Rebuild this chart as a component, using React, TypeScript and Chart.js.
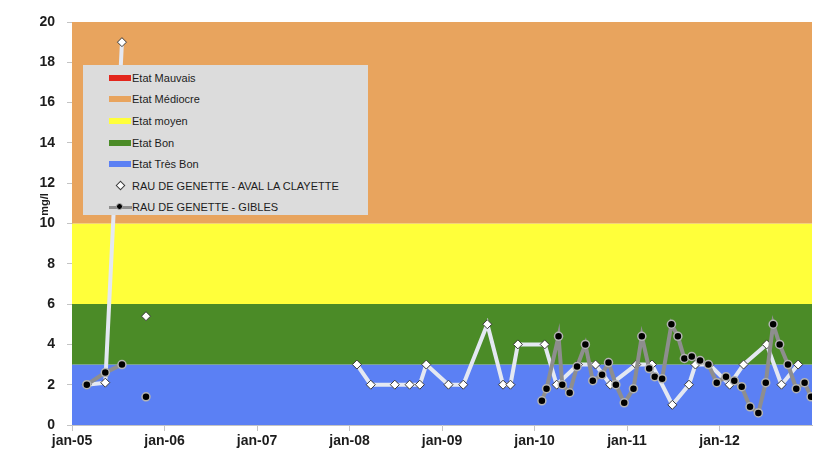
import React, { useEffect, useRef } from 'react';
import { Chart, registerables } from 'chart.js';

Chart.register(...registerables);

// ---- axis data ----
const xMin = 2005;
const xMax = 2013;
const xTickYears = [2005, 2006, 2007, 2008, 2009, 2010, 2011, 2012, 2013];
const xTickLabels = ['jan-05', 'jan-06', 'jan-07', 'jan-08', 'jan-09', 'jan-10', 'jan-11', 'jan-12', ''];
const yMin = 0;
const yMax = 20;
const yStep = 2;
const yTitle = 'mg/l';

// ---- quality bands ----
const bandLabels = ['Etat Mauvais', 'Etat Médiocre', 'Etat moyen', 'Etat Bon', 'Etat Très Bon'];
const bandUpper = [20, 20, 10, 6, 3];
const bandColors = ['#e3261c', '#e8a45e', '#ffff3a', '#4b8b27', '#5b80f4'];

// ---- series: RAU DE GENETTE - AVAL LA CLAYETTE (null = gap) ----
const avalLabel = 'RAU DE GENETTE - AVAL LA CLAYETTE';
const avalDates = [
  2005.16, 2005.36, 2005.54, 2005.67, 2005.80, 2007.0,
  2008.08, 2008.23, 2008.49, 2008.65, 2008.76, 2008.83,
  2009.07, 2009.23, 2009.49, 2009.66, 2009.74, 2009.82,
  2010.11, 2010.24, 2010.47, 2010.66, 2010.82,
  2011.10, 2011.27, 2011.49, 2011.67, 2011.74, 2011.89,
  2012.11, 2012.26, 2012.51, 2012.67, 2012.85,
];
const avalValues = [
  2.0, 2.1, 19.0, null, 5.4, null,
  3.0, 2.0, 2.0, 2.0, 2.0, 3.0,
  2.0, 2.0, 5.0, 2.0, 2.0, 4.0,
  4.0, 2.0, 3.0, 3.0, 2.0,
  3.0, 3.0, 1.0, 2.0, 3.0, 3.0,
  2.0, 3.0, 4.0, 2.0, 3.0,
];

// ---- series: RAU DE GENETTE - GIBLES (null = gap) ----
const giblesLabel = 'RAU DE GENETTE - GIBLES';
const giblesDates = [
  2005.16, 2005.36, 2005.54, 2005.67, 2005.80, 2007.0,
  2010.08, 2010.13, 2010.26, 2010.30, 2010.38, 2010.46, 2010.55, 2010.63, 2010.73, 2010.80, 2010.88, 2010.97,
  2011.07, 2011.16, 2011.24, 2011.30, 2011.38, 2011.48, 2011.55, 2011.62, 2011.70, 2011.79, 2011.88, 2011.97,
  2012.07, 2012.16, 2012.24, 2012.33, 2012.42, 2012.50, 2012.58, 2012.65, 2012.74, 2012.83, 2012.92, 2012.99,
];
const giblesValues = [
  2.0, 2.6, 3.0, null, 1.4, null,
  1.2, 1.8, 4.4, 2.0, 1.6, 2.9, 4.0, 2.2, 2.5, 3.1, 2.0, 1.1,
  1.8, 4.4, 2.8, 2.4, 2.3, 5.0, 4.4, 3.3, 3.4, 3.2, 3.0, 2.1,
  2.4, 2.2, 1.9, 0.9, 0.6, 2.1, 5.0, 4.0, 3.0, 1.8, 2.1, 1.4,
];

const avalLineColor = '#e4e8f2';
const giblesLineColor = '#8e8e8e';
const textColor = '#1c1c1c';

// draws the rotated y-axis title slightly above the axis middle, as in the reference
const yTitlePlugin = {
  id: 'yTitleText',
  afterDraw(chart: any) {
    const { ctx, chartArea } = chart;
    const cx = chartArea.left - 27;
    const cy = (chartArea.top + chartArea.bottom) / 2 - 19;
    ctx.save();
    ctx.translate(cx, cy);
    ctx.rotate(-Math.PI / 2);
    ctx.font = 'bold 11px "Liberation Sans", Arial, sans-serif';
    ctx.fillStyle = textColor;
    ctx.textAlign = 'center';
    ctx.textBaseline = 'middle';
    ctx.fillText(yTitle, 0, 0);
    ctx.restore();
  },
};

export default function App() {
  const canvasRef = useRef<HTMLCanvasElement | null>(null);

  useEffect(() => {
    document.body.style.margin = '0';
    const canvas = canvasRef.current;
    if (!canvas) return;

    const bandDatasets = bandLabels.map((label, i) => ({
      label,
      data: [
        { x: xMin, y: bandUpper[i] },
        { x: xMax, y: bandUpper[i] },
      ],
      borderWidth: 0,
      borderColor: bandColors[i],
      backgroundColor: bandColors[i],
      pointRadius: 0,
      fill: i === bandLabels.length - 1 ? 'origin' : i + 1,
      order: 10 + i,
    }));

    const chart = new Chart(canvas, {
      type: 'line',
      data: {
        datasets: [
          ...bandDatasets,
          {
            label: avalLabel,
            data: avalDates.map((d, i) => ({ x: d, y: avalValues[i] })),
            borderColor: avalLineColor,
            borderWidth: 4,
            pointStyle: 'rectRot',
            pointRadius: 4.5,
            pointBackgroundColor: '#ffffff',
            pointBorderColor: '#3a3a3a',
            pointBorderWidth: 1,
            fill: false,
            spanGaps: false,
            order: 2,
          },
          {
            label: giblesLabel,
            data: giblesDates.map((d, i) => ({ x: d, y: giblesValues[i] })),
            borderColor: giblesLineColor,
            borderWidth: 4,
            pointStyle: 'circle',
            pointRadius: 4,
            pointBackgroundColor: '#000000',
            pointBorderColor: '#b4b4b4',
            pointBorderWidth: 1.5,
            fill: false,
            spanGaps: false,
            order: 1,
          },
        ],
      },
      options: {
        animation: false,
        responsive: false,
        devicePixelRatio: 1,
        layout: { padding: { top: 22, right: 9, left: 0, bottom: 0 } },
        plugins: {
          legend: { display: false },
          tooltip: { enabled: false },
          filler: { drawTime: 'beforeDatasetsDraw' },
        },
        scales: {
          x: {
            type: 'linear',
            min: xMin,
            max: xMax,
            afterFit: (scale: any) => {
              scale.height = 32;
            },
            afterBuildTicks: (scale: any) => {
              scale.ticks = xTickYears.map((v) => ({ value: v }));
            },
            ticks: {
              autoSkip: false,
              maxRotation: 0,
              padding: 2,
              color: textColor,
              font: { family: 'Liberation Sans', size: 14, weight: 'bold' },
              callback: (v: any) => {
                const idx = xTickYears.indexOf(Number(v));
                return idx >= 0 ? xTickLabels[idx] : '';
              },
            },
            grid: {
              drawOnChartArea: false,
              tickLength: 6,
              color: (ctx: any) => (ctx.tick && ctx.tick.value === xMax ? 'rgba(0,0,0,0)' : '#c4c4c4'),
            },
            border: { color: '#c4c4c4' },
          },
          y: {
            min: yMin,
            max: yMax,
            afterFit: (scale: any) => {
              scale.width = 72;
            },
            ticks: {
              stepSize: yStep,
              padding: 12,
              color: textColor,
              font: { family: 'Liberation Sans', size: 14, weight: 'bold' },
            },
            grid: { drawOnChartArea: false, tickLength: 5, color: '#c4c4c4' },
            border: { color: '#c4c4c4' },
            title: { display: false },
          },
        },
      },
      plugins: [yTitlePlugin],
    });

    return () => chart.destroy();
  }, []);

  const rowH = 21.6;
  const legendRows: { label: string; kind: string; color?: string }[] = [
    ...bandLabels.map((l, i) => ({ label: l, kind: 'band', color: bandColors[i] })),
    { label: avalLabel, kind: 'aval' },
    { label: giblesLabel, kind: 'gibles' },
  ];

  return (
    <div style={{ position: 'relative', width: 821, height: 457, background: '#fff' }}>
      <canvas ref={canvasRef} width={821} height={457} style={{ width: 821, height: 457, display: 'block' }} />
      <div
        style={{
          position: 'absolute',
          left: 83,
          top: 65,
          width: 285,
          height: 150,
          background: '#dcdcdc',
          fontFamily: 'Liberation Sans, Arial, sans-serif',
          fontSize: 11,
          color: textColor,
        }}
      >
        {legendRows.map((r, i) => {
          const cy = 12.7 + i * rowH;
          return (
            <div key={r.label} style={{ position: 'absolute', left: 0, top: cy - 8, height: 16, width: 285 }}>
              {r.kind === 'band' && (
                <div style={{ position: 'absolute', left: 26, top: 5, width: 22, height: 6, background: r.color }} />
              )}
              {r.kind === 'aval' && (
                <div
                  style={{
                    position: 'absolute',
                    left: 33.5,
                    top: 4.5,
                    width: 5,
                    height: 5,
                    background: '#fff',
                    border: '1px solid #3a3a3a',
                    transform: 'rotate(45deg)',
                  }}
                />
              )}
              {r.kind === 'gibles' && (
                <>
                  <div style={{ position: 'absolute', left: 26, top: 6.5, width: 23, height: 3, background: giblesLineColor }} />
                  <div
                    style={{
                      position: 'absolute',
                      left: 33,
                      top: 4,
                      width: 7,
                      height: 7,
                      borderRadius: '50%',
                      background: '#000',
                      border: '1px solid #b4b4b4',
                      boxSizing: 'border-box',
                    }}
                  />
                </>
              )}
              <span style={{ position: 'absolute', left: 49, top: 1, whiteSpace: 'nowrap', lineHeight: '14px' }}>{r.label}</span>
            </div>
          );
        })}
      </div>
    </div>
  );
}
